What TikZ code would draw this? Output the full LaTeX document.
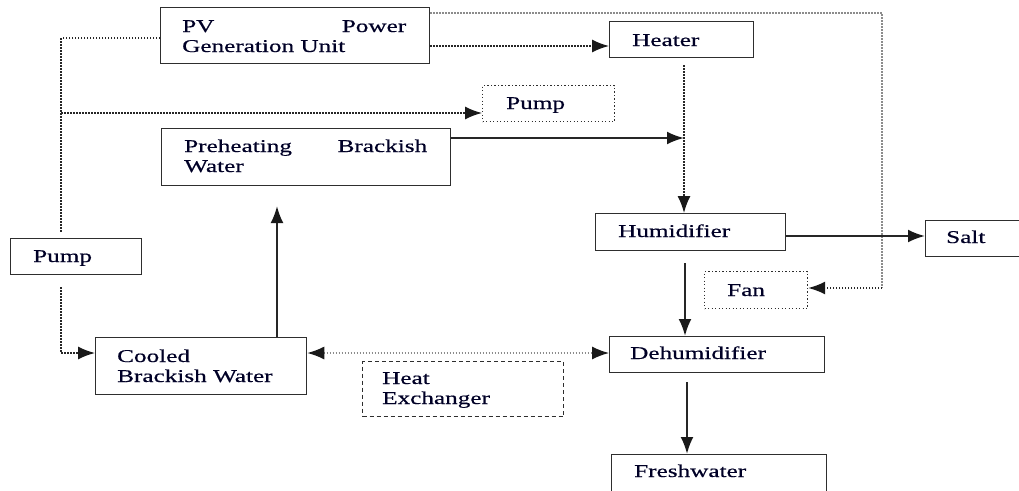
\documentclass[tikz,border=0pt]{standalone}
\usepackage{fontspec}
\setmainfont{Liberation Serif}[FakeStretch=1.4,FakeBold=0.5]
\usetikzlibrary{arrows.meta}
\definecolor{boxline}{HTML}{2E2E2E}
\definecolor{greyline}{HTML}{8C8C8C}
\tikzset{
  box/.style={draw=boxline, line width=1.3pt, rectangle, inner sep=0pt, anchor=north west},
  dotbox/.style={box, line width=1.2pt, dash pattern=on 1.3pt off 2.2pt},
  dashbox/.style={box, line width=1.2pt, dash pattern=on 4pt off 3pt},
  txt/.style={anchor=base west, inner sep=0pt, font=\fontsize{18}{20}\selectfont, text=black!85!blue},
  blackhead/.tip={Latex[length=17pt,width=13pt,color=black!90]},
  tip/.style={-blackhead},
  solidflow/.style={draw=black!85, line width=2.2pt, tip},
  darkdot/.style={draw=black!85, line width=1.5pt, dash pattern=on 1.5pt off 1.5pt},
  greydot/.style={draw=greyline, line width=1.3pt, dash pattern=on 1.3pt off 1.7pt},
}
\begin{document}
\begin{tikzpicture}[x=1pt,y=-1pt]
\useasboundingbox (0,0) rectangle (1019,490);
% boxes
\node[box, minimum width=269pt, minimum height=56pt] (pv) at (160,7) {};
\node[txt] (pvt) at (182,32) {\makebox[224pt][s]{PV\hfill Power}};
\node[txt] (pvt2) at (182,52) {Generation Unit};
\node[box, minimum width=144pt, minimum height=36pt] (heater) at (609,21) {};
\node[txt] (heatert) at (632,46) {Heater};
\node[dotbox, minimum width=132pt, minimum height=36pt] (pumpT) at (482,85) {};
\node[txt] (pumpTt) at (506,109) {Pump};
\node[box, minimum width=289pt, minimum height=57pt] (pre) at (161,128) {};
\node[txt] (pret) at (184,152) {\makebox[243pt][s]{Preheating\hfill Brackish}};
\node[txt] (pret2) at (184,172) {Water};
\node[box, minimum width=131pt, minimum height=36pt] (pumpL) at (10,238) {};
\node[txt] (pumpLt) at (33,262) {Pump};
\node[box, minimum width=190pt, minimum height=37pt] (hum) at (595,213) {};
\node[txt] (humt) at (618,237) {Humidifier};
\node[box, minimum width=130pt, minimum height=36pt] (salt) at (925,220) {};
\node[txt] (saltt) at (946,243) {Salt};
\node[dotbox, minimum width=103pt, minimum height=37pt] (fan) at (704,271) {};
\node[txt] (fant) at (727,296) {Fan};
\node[box, minimum width=211pt, minimum height=57pt] (cool) at (95,337) {};
\node[txt] (coolt) at (117,362) {Cooled};
\node[txt] (coolt2) at (117,382) {Brackish Water};
\node[dashbox, minimum width=201pt, minimum height=55pt] (hx) at (362,361) {};
\node[txt] (hxt) at (382,384) {Heat};
\node[txt] (hxt2) at (382,404) {Exchanger};
\node[box, minimum width=215pt, minimum height=36pt] (dehum) at (609,336) {};
\node[txt] (dehumt) at (630,359) {Dehumidifier};
\node[box, minimum width=215pt, minimum height=42pt] (fresh) at (611,454) {};
\node[txt] (fresht) at (634,477) {Freshwater};
% junction coordinates
\coordinate (g1) at (882,13);
\coordinate (g2) at (882,288);
\coordinate (l1) at (61,38);
\coordinate (l2) at (61,232);
\coordinate (l3) at (61,113);
\coordinate (l4) at (61,287);
\coordinate (l5) at (61,353);
\coordinate (hd) at (684,65);
\coordinate (pa) at (684,138);
% connectors
\draw[greydot] (pv.north east |- g1) -- (g1) -- (g2);
\draw[darkdot, tip] (g2) -- (fan.east |- g2);
\draw[darkdot, tip] (pv.east |- 0,46) -- (heater.west |- 0,46);
\draw[darkdot] (pv.west |- l1) -- (l1) -- (l2);
\draw[darkdot, tip] (l3) -- (pumpT.west |- l3);
\draw[darkdot, tip] (l4) -- (l5) -- (cool.west |- l5);
\draw[darkdot, tip] (hd) -- (hd |- hum.north);
\draw[solidflow] (pre.east |- pa) -- (pa);
\draw[solidflow] (hum.east |- 0,236) -- (salt.west |- 0,236);
\draw[solidflow] (685,263) -- (685,0 |- dehum.north);
\draw[solidflow] (687,382) -- (687,0 |- fresh.north);
\draw[solidflow] (cool.north -| 277,0) -- (277,206);
\draw[greydot, blackhead-blackhead] (cool.east |- 0,353) -- (dehum.west |- 0,353);
\end{tikzpicture}
\end{document}
